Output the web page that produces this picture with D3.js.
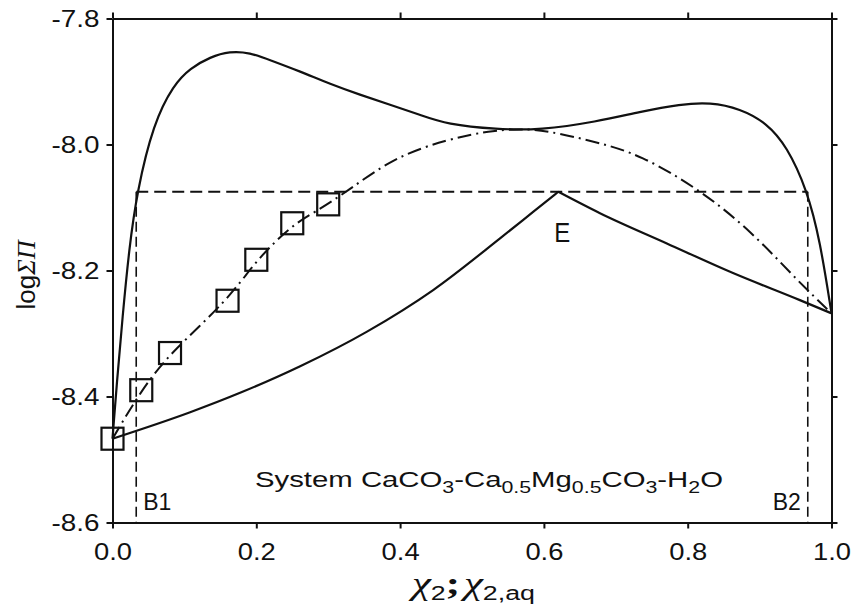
<!DOCTYPE html>
<html>
<head>
<meta charset="utf-8">
<script src="https://cdn.jsdelivr.net/npm/d3@7"></script>
<style>
  body { margin: 0; background: #fff; }
  text { font-family: "Liberation Sans", Arial, sans-serif; fill: #111; }
</style>
</head>
<body>
<script>
// --- data ---
// upper solid curve
var upperX = [0, 0.006, 0.014, 0.023, 0.034, 0.057, 0.085, 0.108, 0.136, 0.163, 0.191, 0.219, 0.261, 0.303, 0.344, 0.386, 0.428, 0.465, 0.534, 0.595, 0.673, 0.734, 0.79, 0.831, 0.873, 0.91, 0.938, 0.966, 0.984, 1.0];
var upperY = [-8.467, -8.379, -8.273, -8.167, -8.075, -7.966, -7.905, -7.879, -7.861, -7.852, -7.854, -7.866, -7.884, -7.904, -7.921, -7.937, -7.953, -7.968, -7.976, -7.977, -7.964, -7.948, -7.936, -7.933, -7.943, -7.966, -8.003, -8.072, -8.152, -8.268];
// dash-dot curve
var dashDotX = [0, 0.04, 0.08, 0.16, 0.2, 0.25, 0.279, 0.326, 0.39, 0.465, 0.525, 0.57, 0.604, 0.673, 0.734, 0.817, 0.887, 0.956, 1.0];
var dashDotY = [-8.467, -8.39, -8.331, -8.248, -8.183, -8.128, -8.109, -8.075, -8.021, -7.992, -7.978, -7.975, -7.978, -7.996, -8.016, -8.072, -8.136, -8.220, -8.268];
// lower solid curve, two branches meeting at E
var lowerLeftX = [0, 0.108, 0.18, 0.261, 0.354, 0.446, 0.539, 0.585, 0.62];
var lowerLeftY = [-8.467, -8.425, -8.393, -8.352, -8.297, -8.231, -8.149, -8.107, -8.075];
var lowerRightX = [0.62, 0.678, 0.771, 0.863, 0.956, 1.0];
var lowerRightY = [-8.075, -8.109, -8.157, -8.204, -8.247, -8.268];
// experimental points (squares)
var expX = [0, 0.04, 0.08, 0.16, 0.2, 0.25, 0.30];
var expY = [-8.467, -8.39, -8.331, -8.248, -8.183, -8.125, -8.095];
// eutectic level and bounds B1, B2
var eutecticY = -8.075;
var boundB1 = 0.033, boundB2 = 0.967;
var xTicks = [0, 0.2, 0.4, 0.6, 0.8, 1.0];
var yTicks = [-7.8, -8.0, -8.2, -8.4, -8.6];

var W = 853, H = 612;
var svg = d3.select("body").append("svg").attr("width", W).attr("height", H);

var x = d3.scaleLinear().domain([0, 1]).range([112.5, 831.5]);
var y = d3.scaleLinear().domain([-7.8, -8.6]).range([18.5, 522.5]);

function zip(a, b) { return a.map(function(v, i) { return [v, b[i]]; }); }
var fmt = function(d) { return d3.format(".1f")(d).replace("\u2212", "-"); };

// axes
var gL = svg.append("g").attr("transform", "translate(" + x(0) + ",0)")
  .call(d3.axisLeft(y).tickValues(yTicks).tickSize(6).tickSizeOuter(0).tickPadding(7).tickFormat(fmt));
var gB = svg.append("g").attr("transform", "translate(0," + y(-8.6) + ")")
  .call(d3.axisBottom(x).tickValues(xTicks).tickSize(6).tickSizeOuter(0).tickPadding(14).tickFormat(fmt));
var gR = svg.append("g").attr("transform", "translate(" + x(1) + ",0)")
  .call(d3.axisRight(y).tickValues(yTicks).tickSize(6).tickSizeOuter(0).tickFormat(""));
var gT = svg.append("g").attr("transform", "translate(0," + y(-7.8) + ")")
  .call(d3.axisTop(x).tickValues(xTicks).tickSize(6).tickSizeOuter(0).tickFormat(""));
[gL, gB, gR, gT].forEach(function(g) {
  g.selectAll("path, line").attr("stroke", "#111").attr("stroke-width", 2);
  g.selectAll("text").attr("font-size", 24).attr("fill", "#111")
    .attr("font-family", "Liberation Sans, Arial, sans-serif");
});
// the reference glyphs are a bit wider than Liberation Sans
gL.selectAll("text").attr("x", -13 / 1.16).attr("transform", "scale(1.16,1)");
gB.selectAll("text").attr("transform", "scale(1.14,1)");

var line = d3.line().x(function(d) { return x(d[0]); }).y(function(d) { return y(d[1]); });
var smooth = d3.line().x(function(d) { return x(d[0]); }).y(function(d) { return y(d[1]); })
  .curve(d3.curveBasis);
var mono = d3.line().x(function(d) { return x(d[0]); }).y(function(d) { return y(d[1]); })
  .curve(d3.curveMonotoneX);

// dashed eutectic line and bounds
svg.append("path").attr("d", line([[boundB1, eutecticY], [boundB2, eutecticY]]))
  .attr("fill", "none").attr("stroke", "#111").attr("stroke-width", 2).attr("stroke-dasharray", "12,6");
svg.append("path").attr("d", line([[boundB1, eutecticY], [boundB1, -8.6]]))
  .attr("fill", "none").attr("stroke", "#111").attr("stroke-width", 1.6).attr("stroke-dasharray", "10,5");
svg.append("path").attr("d", line([[boundB2, eutecticY], [boundB2, -8.6]]))
  .attr("fill", "none").attr("stroke", "#111").attr("stroke-width", 1.6).attr("stroke-dasharray", "10,5");

// curves
svg.append("path").attr("d", smooth(zip(upperX, upperY)))
  .attr("fill", "none").attr("stroke", "#111").attr("stroke-width", 2.2);
svg.append("path").attr("d", smooth(zip(dashDotX, dashDotY)))
  .attr("fill", "none").attr("stroke", "#111").attr("stroke-width", 2).attr("stroke-dasharray", "14,5,2,5");
svg.append("path").attr("d", mono(zip(lowerLeftX, lowerLeftY)))
  .attr("fill", "none").attr("stroke", "#111").attr("stroke-width", 2.2);
svg.append("path").attr("d", mono(zip(lowerRightX, lowerRightY)))
  .attr("fill", "none").attr("stroke", "#111").attr("stroke-width", 2.2);

// squares
var sq = 22;
svg.selectAll("rect.exp").data(zip(expX, expY)).enter().append("rect")
  .attr("class", "exp")
  .attr("x", function(d) { return x(d[0]) - sq / 2; })
  .attr("y", function(d) { return y(d[1]) - sq / 2; })
  .attr("width", sq).attr("height", sq)
  .attr("fill", "none").attr("stroke", "#111").attr("stroke-width", 2.2);

// labels
svg.append("text").attr("x", x(0.62) - 4).attr("y", 242).attr("font-size", 27)
  .attr("textLength", 16).attr("lengthAdjust", "spacingAndGlyphs").text("E");
svg.append("text").attr("x", x(boundB1) + 7).attr("y", 510).attr("font-size", 23).text("B1");
svg.append("text").attr("x", x(boundB2) - 7).attr("y", 510).attr("font-size", 23)
  .attr("text-anchor", "end").text("B2");

var sys = svg.append("text").attr("x", 255).attr("y", 487).attr("font-size", 22)
  .attr("textLength", 468).attr("lengthAdjust", "spacingAndGlyphs");
sys.append("tspan").text("System CaCO");
sys.append("tspan").attr("font-size", 16).attr("dy", 6).text("3");
sys.append("tspan").attr("dy", -6).text("-Ca");
sys.append("tspan").attr("font-size", 16).attr("dy", 6).text("0.5");
sys.append("tspan").attr("dy", -6).text("Mg");
sys.append("tspan").attr("font-size", 16).attr("dy", 6).text("0.5");
sys.append("tspan").attr("dy", -6).text("CO");
sys.append("tspan").attr("font-size", 16).attr("dy", 6).text("3");
sys.append("tspan").attr("dy", -6).text("-H");
sys.append("tspan").attr("font-size", 16).attr("dy", 6).text("2");
sys.append("tspan").attr("dy", -6).text("O");

// x axis title
var xt = svg.append("text").attr("x", 412).attr("y", 594).attr("font-size", 32)
  .attr("textLength", 123).attr("lengthAdjust", "spacingAndGlyphs");
xt.append("tspan").attr("font-family", "Liberation Serif, serif").attr("font-style", "italic").text("χ");
xt.append("tspan").attr("font-size", 20).attr("dy", 6).text("2");
xt.append("tspan").attr("dy", -6).attr("font-family", "Liberation Serif, serif").attr("font-weight", "bold").text(";");
xt.append("tspan").attr("dx", 3).attr("font-family", "Liberation Serif, serif").attr("font-style", "italic").text("χ");
xt.append("tspan").attr("font-size", 20).attr("dy", 6).text("2,aq");

// y axis title
var yt = svg.append("text").attr("transform", "translate(35,275) rotate(-90)")
  .attr("text-anchor", "middle").attr("font-size", 26);
yt.append("tspan").text("log");
yt.append("tspan").attr("font-family", "Liberation Serif, serif").attr("font-style", "italic").text("ΣΠ");
</script>
</body>
</html>
